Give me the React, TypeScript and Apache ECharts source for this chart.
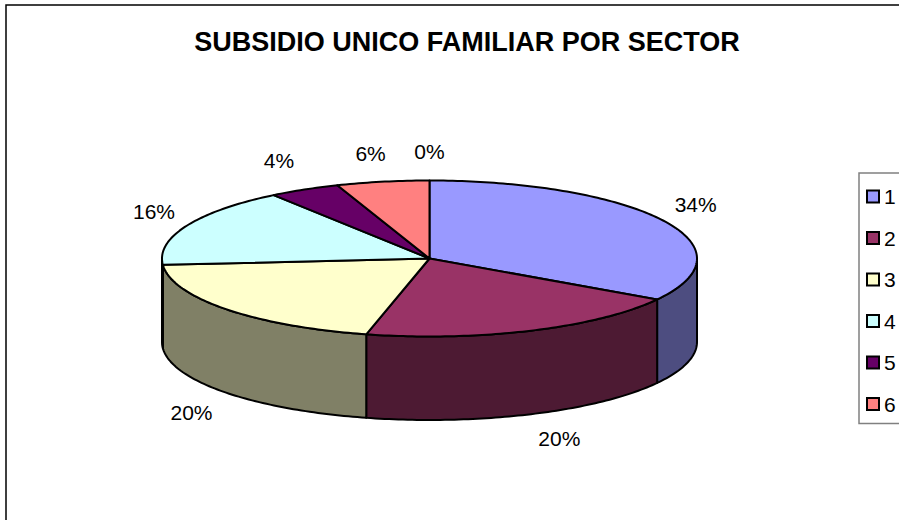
import React, { useEffect, useRef } from "react";
import * as echarts from "echarts";

const titleText = "SUBSIDIO UNICO FAMILIAR POR SECTOR";
const sectors = ["1", "2", "3", "4", "5", "6", "7"];
const legendSectors = ["1", "2", "3", "4", "5", "6"];
const shares = [33.8, 20.0, 19.9, 16.4, 4.3, 5.6, 0];

const topColors = ["#9999FF", "#993366", "#FFFFCC", "#CCFFFF", "#660066", "#FF8080", "#660066"];
const sideColors = ["#4D4D80", "#4D1A33", "#808066", "#668080", "#330033", "#804040", "#330033"];

// layout of the tilted pie
const CX = 429.5;
const CY = 258.5;
const RX = 267.5;
const RY = 78;
const DEPTH = 83.5;
const labelNudgeX = [2, 15, -8, -1, -9, -6, 0];
const labelNudgeY = [-1, -3, 0, -2, -3, 1, 1];

const FONT = '"Liberation Sans", Arial, sans-serif';
const total = shares.reduce((a, b) => a + b, 0);

function rim(tDeg: number, drop = 0): number[] {
  const t = (tDeg * Math.PI) / 180;
  return [CX + RX * Math.sin(t), CY - RY * Math.cos(t) + drop];
}

function arc(a: number, b: number, drop = 0): number[][] {
  const n = Math.max(1, Math.ceil(Math.abs(b - a)));
  const pts: number[][] = [];
  for (let i = 0; i <= n; i++) pts.push(rim(a + ((b - a) * i) / n, drop));
  return pts;
}

function makeRenderItem(index: number) {
  const before = shares.slice(0, index).reduce((a, b) => a + b, 0);
  return (_params: any, api: any) => {
    const value = api.value(0);
    const start = (before / total) * 360;
    const end = ((before + value) / total) * 360;
    const children: any[] = [];
    const line = { stroke: "#000", lineWidth: 2, lineJoin: "round" };

    const sideA = Math.max(start, 90);
    const sideB = Math.min(end, 270);
    if (value > 0 && sideB > sideA) {
      children.push({
        type: "polygon",
        shape: { points: [...arc(sideA, sideB), ...arc(sideB, sideA, DEPTH)] },
        style: { fill: sideColors[index], ...line },
      });
    }
    if (value > 0) {
      children.push({
        type: "polygon",
        shape: { points: [[CX, CY], ...arc(start, end)] },
        style: { fill: topColors[index], ...line },
      });
    }
    const mid = (start + end) / 2;
    const t = (mid * Math.PI) / 180;
    const front = Math.cos(t) < 0;
    children.push({
      type: "text",
      style: {
        text: `${Math.round((value / total) * 100)}%`,
        x: CX + (RX + 35) * Math.sin(t) + labelNudgeX[index],
        y: CY - (RY + 30) * Math.cos(t) + (front ? DEPTH : 0) + labelNudgeY[index],
        align: "center",
        verticalAlign: "middle",
        fill: "#000",
        font: `21px ${FONT}`,
      },
    });
    return { type: "group", children };
  };
}

export default function App() {
  const ref = useRef<HTMLDivElement>(null);
  useEffect(() => {
    const chart = echarts.init(ref.current!, null, { renderer: "svg" });
    chart.setOption({
      animation: false,
      backgroundColor: "#fff",
      title: {
        text: titleText,
        left: 462,
        top: 23,
        textAlign: "center",
        textStyle: { fontFamily: FONT, fontSize: 27, fontWeight: "bold", color: "#000" },
      },
      legend: {
        data: legendSectors,
        orient: "vertical",
        left: 859,
        top: 173,
        icon: "rect",
        itemWidth: 12,
        itemHeight: 12,
        itemGap: 20.5,
        padding: [13, 10, 9, 7],
        borderColor: "#808080",
        borderWidth: 1.5,
        selectedMode: false,
        itemStyle: { borderColor: "#000", borderWidth: 2 },
        textStyle: { fontFamily: FONT, fontSize: 21, color: "#000" },
      },
      graphic: [
        {
          type: "polyline",
          silent: true,
          shape: { points: [[6, 520], [6, 5], [899, 5]] },
          style: { stroke: "#000", lineWidth: 1.5, fill: "none" },
        },
      ],
      series: sectors.map((name, i) => ({
        type: "custom",
        name,
        coordinateSystem: "none",
        data: [shares[i]],
        itemStyle: { color: topColors[i] },
        renderItem: makeRenderItem(i),
      })),
    });
    return () => chart.dispose();
  }, []);
  return (
    <div
      ref={ref}
      style={{ position: "fixed", left: 0, top: 0, width: 899, height: 520 }}
    />
  );
}
